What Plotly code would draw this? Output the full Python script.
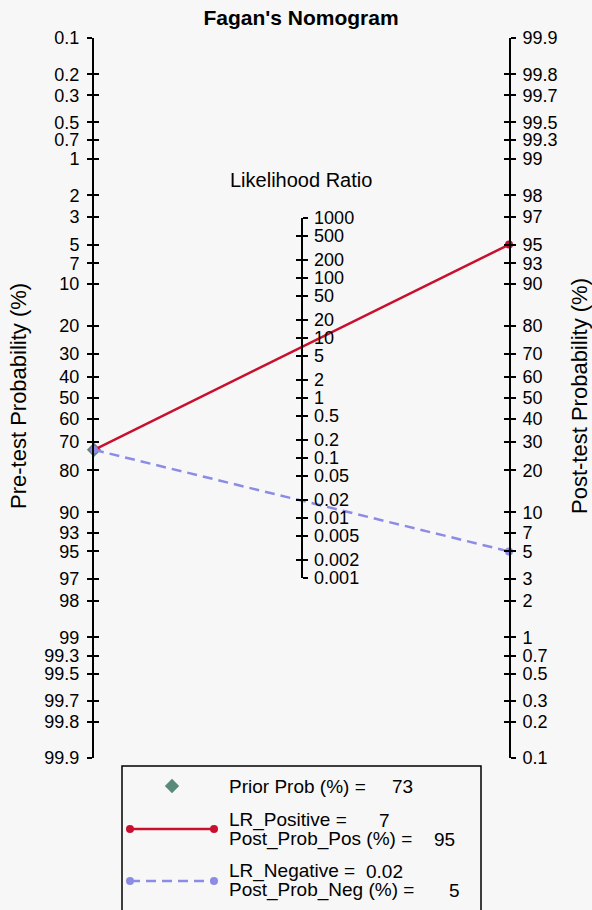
import numpy as np
import plotly.graph_objects as go

# ---------------- data ----------------
prob_ticks = [0.1, 0.2, 0.3, 0.5, 0.7, 1, 2, 3, 5, 7, 10, 20, 30, 40, 50, 60, 70, 80,
              90, 93, 95, 97, 98, 99, 99.3, 99.5, 99.7, 99.8, 99.9]
lr_ticks = [1000, 500, 200, 100, 50, 20, 10, 5, 2, 1, 0.5, 0.2, 0.1, 0.05, 0.02,
            0.01, 0.005, 0.002, 0.001]
prior_prob = 73          # %
lr_positive = 7
post_prob_pos = 95       # %
lr_negative = 0.02
post_prob_neg = 5        # %

# ---------------- geometry helpers ----------------
W, H = 592, 910
def px_x(p):
    return p / W
def px_y(p):
    return (H - p) / H

def logit(pct):
    p = np.asarray(pct, dtype=float) / 100.0
    return np.log(p / (1 - p))

R = float(logit(99.9)) * 1.0004           # half-range of the logit axes
top_px, bot_px = 38, 758
mid_px = (top_px + bot_px) / 2
scale = (bot_px - top_px) / (2 * R)       # px per logit unit
half_lr = scale * np.log(1000) / 2        # px half-height of LR axis

FONT = "Liberation Sans, Arial, sans-serif"
RED = "#c8102e"
BLUE = "#8c8ce6"
GREEN = "#5b8a79"
BG = "#f7f7f7"

def fmt(v):
    return "%g" % v

fig = go.Figure()

left_vals = list(-logit(prob_ticks))
right_vals = list(logit(prob_ticks))
tick_text = [fmt(v) for v in prob_ticks]

# invisible anchor traces so that every axis is drawn
for ya in ["y2", "y4", "y5"]:
    fig.add_trace(go.Scatter(x=[0.5], y=[0], mode="markers", marker=dict(opacity=0),
                             yaxis=ya, hoverinfo="skip", showlegend=False))
for ya in ["y3", "y6"]:
    fig.add_trace(go.Scatter(x=[0.5], y=[1], mode="markers", marker=dict(opacity=0),
                             yaxis=ya, hoverinfo="skip", showlegend=False))

pre_v = float(-logit(prior_prob))
# prior probability marker
fig.add_trace(go.Scatter(x=[0], y=[pre_v], mode="markers",
                         marker=dict(symbol="diamond", size=11, color=GREEN),
                         cliponaxis=False, showlegend=False, hoverinfo="skip"))
# positive LR line
fig.add_trace(go.Scatter(x=[0, 1], y=[pre_v, float(logit(post_prob_pos))],
                         mode="lines+markers",
                         line=dict(color=RED, width=2.5),
                         marker=dict(symbol="circle", size=8, color=RED),
                         cliponaxis=False, showlegend=False, hoverinfo="skip"))
# negative LR line
fig.add_trace(go.Scatter(x=[0, 1], y=[pre_v, float(logit(post_prob_neg))],
                         mode="lines+markers",
                         line=dict(color=BLUE, width=2.5, dash="10px,6px"),
                         marker=dict(symbol="circle", size=8, color=BLUE),
                         cliponaxis=False, showlegend=False, hoverinfo="skip"))

# ---------------- legend (drawn on its own hidden axes) ----------------
fig.add_trace(go.Scatter(x=[50], y=[20], mode="markers", xaxis="x2", yaxis="y7",
                         marker=dict(symbol="diamond", size=11, color=GREEN),
                         cliponaxis=False, showlegend=False, hoverinfo="skip"))
fig.add_trace(go.Scatter(x=[8, 92], y=[63, 63], mode="lines+markers", xaxis="x2", yaxis="y7",
                         line=dict(color=RED, width=2.5),
                         marker=dict(symbol="circle", size=8, color=RED),
                         cliponaxis=False, showlegend=False, hoverinfo="skip"))
fig.add_trace(go.Scatter(x=[8, 92], y=[115, 115], mode="lines+markers", xaxis="x2", yaxis="y7",
                         line=dict(color=BLUE, width=2.5, dash="10px,6px"),
                         marker=dict(symbol="circle", size=8, color=BLUE),
                         cliponaxis=False, showlegend=False, hoverinfo="skip"))

legend_texts = [
    ("Prior Prob (%) =", 20, fmt(prior_prob), 268),
    ("LR_Positive =", 54, fmt(lr_positive), 255),
    ("Post_Prob_Pos (%) =", 73, fmt(post_prob_pos), 310),
    ("LR_Negative =", 105, fmt(lr_negative), 242),
    ("Post_Prob_Neg (%) =", 124, fmt(post_prob_neg), 325),
]
annotations = []
for lab, yy, val, xv in legend_texts:
    annotations.append(dict(x=105, y=yy, xref="x2", yref="y7", text=lab, showarrow=False,
                            xanchor="left", yanchor="middle",
                            font=dict(family=FONT, size=19, color="black")))
    annotations.append(dict(x=xv, y=yy, xref="x2", yref="y7", text=val, showarrow=False,
                            xanchor="left", yanchor="middle",
                            font=dict(family=FONT, size=19, color="black")))

# axis titles & labels
annotations += [
    dict(x=px_x(18), y=px_y(396), xref="paper", yref="paper", text="Pre-test Probability (%)",
         textangle=-90, showarrow=False, xanchor="center", yanchor="middle",
         font=dict(family=FONT, size=22, color="black")),
    dict(x=px_x(579), y=px_y(396), xref="paper", yref="paper", text="Post-test Probability (%)",
         textangle=-90, showarrow=False, xanchor="center", yanchor="middle",
         font=dict(family=FONT, size=22, color="black")),
    dict(x=px_x(301), y=px_y(180), xref="paper", yref="paper", text="Likelihood Ratio",
         showarrow=False, xanchor="center", yanchor="middle",
         font=dict(family=FONT, size=20, color="black")),
]

shapes = [
    dict(type="rect", xref="paper", yref="paper",
         x0=px_x(122), x1=px_x(481), y0=-0.02, y1=px_y(766),
         line=dict(color="black", width=1.5), fillcolor="rgba(0,0,0,0)", layer="below"),
]

tickfont = dict(family=FONT, size=18, color="black")
common = dict(range=[-R, R], tickmode="array", showgrid=False, zeroline=False,
              showline=True, linecolor="black", linewidth=2, tickcolor="black",
              tickwidth=1.5, ticklen=5, tickfont=tickfont, automargin=False)

lr_dom = [px_y(mid_px + half_lr), px_y(mid_px - half_lr)]
lr_common = dict(type="log", range=[-3, 3], domain=lr_dom, anchor="free", position=px_x(301.5),
                 tickmode="array", tickvals=lr_ticks, ticktext=[fmt(v) for v in lr_ticks],
                 showgrid=False, zeroline=False, showline=True, linecolor="black",
                 linewidth=2, tickcolor="black", tickwidth=1.5, ticklen=5,
                 tickfont=tickfont, side="right", automargin=False)

fig.update_layout(
    template="none",
    width=W, height=H,
    margin=dict(l=0, r=0, t=0, b=0, autoexpand=False),
    paper_bgcolor=BG, plot_bgcolor="rgba(0,0,0,0)",
    showlegend=False,
    title=dict(text="<b>Fagan's Nomogram</b>", x=px_x(301), xref="paper", xanchor="center",
               y=1 - 18 / H, yref="container", yanchor="middle",
               font=dict(family=FONT, size=21, color="black"), automargin=False),
    xaxis=dict(domain=[px_x(94), px_x(509)], range=[0, 1], visible=False, anchor="y",
               automargin=False),
    yaxis=dict(domain=[px_y(bot_px), px_y(top_px)], anchor="x", side="left",
               tickvals=left_vals, ticktext=tick_text, ticks="outside",
               ticklabelstandoff=4, **common),
    yaxis2=dict(overlaying="y", anchor="x", side="right",
                tickvals=right_vals, ticktext=tick_text, ticks="outside",
                ticklabelstandoff=3, **common),
    yaxis4=dict(overlaying="y", anchor="x", side="left", tickvals=left_vals,
                ticks="inside", showticklabels=False, **common),
    yaxis5=dict(overlaying="y", anchor="x", side="right", tickvals=right_vals,
                ticks="inside", showticklabels=False, **common),
    yaxis3=dict(ticks="outside", ticklabelstandoff=3, **lr_common),
    yaxis6=dict(ticks="inside", showticklabels=False, **lr_common),
    xaxis2=dict(domain=[px_x(122), px_x(481)], range=[0, 359], visible=False, anchor="y7",
                automargin=False),
    yaxis7=dict(domain=[0, px_y(766)], range=[144, 0], visible=False, anchor="x2",
                automargin=False),
    annotations=annotations,
    shapes=shapes,
)

fig.write_html("out.html")
